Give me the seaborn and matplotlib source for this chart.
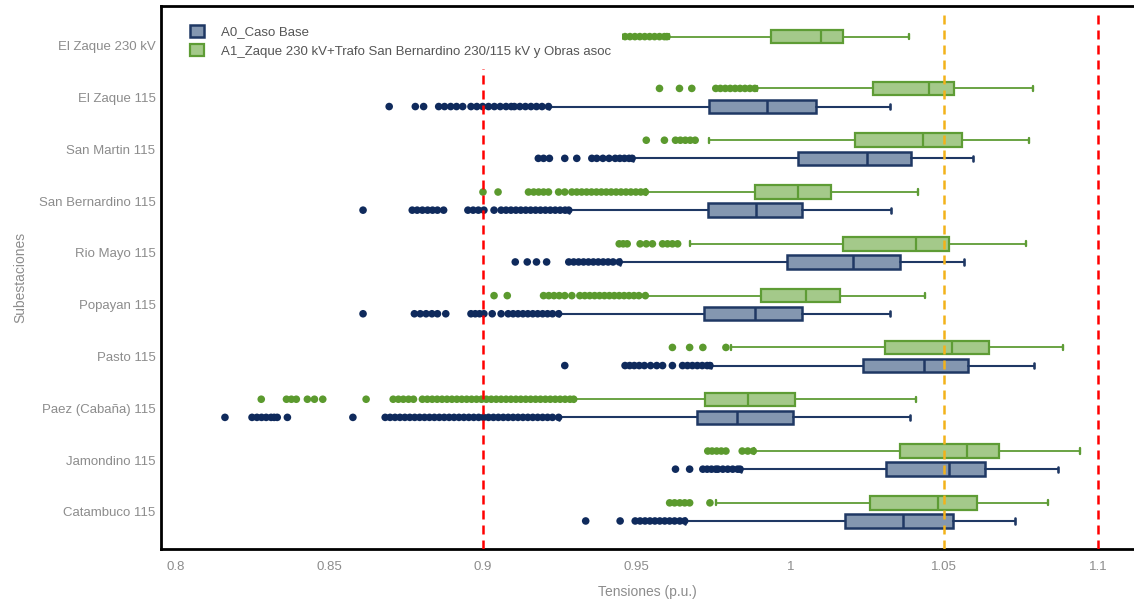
import matplotlib
matplotlib.use("Agg")
import matplotlib.pyplot as plt
from matplotlib.patches import Patch
import pandas as pd
import seaborn as sns

# substations, top to bottom
subestaciones = ["El Zaque 230 kV", "El Zaque 115", "San Martin 115", "San Bernardino 115",
                 "Rio Mayo 115", "Popayan 115", "Pasto 115", "Paez (Cabaña) 115",
                 "Jamondino 115", "Catambuco 115"]

serie_a0 = "A0_Caso Base"
serie_a1 = "A1_Zaque 230 kV+Trafo San Bernardino 230/115 kV y Obras asoc"

# box stats: whisker low, q1, median, q3, whisker high  (None = no box)
a1_stats = [
    (0.9605, 0.9938, 1.0098, 1.0170, 1.0384),
    (0.9890, 1.0269, 1.0449, 1.0531, 1.0790),
    (0.9734, 1.0210, 1.0430, 1.0557, 1.0774),
    (0.9530, 0.9885, 1.0023, 1.0131, 1.0416),
    (0.9672, 1.0170, 1.0407, 1.0515, 1.0767),
    (0.9530, 0.9905, 1.0049, 1.0161, 1.0436),
    (0.9807, 1.0308, 1.0525, 1.0646, 1.0885),
    (0.9297, 0.9721, 0.9862, 1.0016, 1.0407),
    (0.9882, 1.0357, 1.0574, 1.0679, 1.0941),
    (0.9757, 1.0259, 1.0479, 1.0607, 1.0836),
]
a0_stats = [
    None,
    (0.9215, 0.9734, 0.9925, 1.0082, 1.0325),
    (0.9487, 1.0023, 1.0249, 1.0393, 1.0593),
    (0.9281, 0.9731, 0.9889, 1.0039, 1.0328),
    (0.9445, 0.9987, 1.0203, 1.0357, 1.0564),
    (0.9248, 0.9718, 0.9885, 1.0039, 1.0325),
    (0.9740, 1.0236, 1.0433, 1.0577, 1.0793),
    (0.9248, 0.9695, 0.9826, 1.0007, 1.0390),
    (0.9838, 1.0311, 1.0515, 1.0633, 1.0869),
    (0.9658, 1.0177, 1.0367, 1.0528, 1.0731),
]

# outliers
a1_outliers = [
    [0.9446, 0.9462, 0.9478, 0.9494, 0.9510, 0.9526, 0.9542, 0.9558, 0.9574, 0.9590, 0.9598],
    [0.9574, 0.9639, 0.9679, 0.9757, 0.9772, 0.9788, 0.9804, 0.9820, 0.9836, 0.9852, 0.9868, 0.9884],
    [0.9531, 0.9590, 0.9626, 0.9642, 0.9658, 0.9674, 0.9690],
    [0.9000, 0.9049, 0.9148, 0.9165, 0.9181, 0.9197, 0.9213, 0.9246, 0.9266, 0.9289, 0.9305,
     0.9321, 0.9337, 0.9353, 0.9369, 0.9385, 0.9401, 0.9417, 0.9433, 0.9449, 0.9465, 0.9481,
     0.9497, 0.9513, 0.9528],
    [0.9443, 0.9456, 0.9469, 0.9511, 0.9531, 0.9551, 0.9584, 0.9600, 0.9616, 0.9633],
    [0.9036, 0.9079, 0.9197, 0.9214, 0.9231, 0.9248, 0.9266, 0.9289, 0.9315, 0.9331, 0.9347,
     0.9363, 0.9379, 0.9395, 0.9411, 0.9427, 0.9443, 0.9459, 0.9475, 0.9491, 0.9507, 0.9528],
    [0.9616, 0.9672, 0.9715, 0.9790],
    [0.8279, 0.8361, 0.8377, 0.8393, 0.8429, 0.8452, 0.8479, 0.8620, 0.8708, 0.8725, 0.8741,
     0.8758, 0.8774, 0.8803, 0.8819, 0.8835, 0.8851, 0.8867, 0.8883, 0.8899, 0.8915, 0.8931,
     0.8947, 0.8963, 0.8979, 0.8995, 0.9011, 0.9027, 0.9043, 0.9059, 0.9075, 0.9091, 0.9107,
     0.9123, 0.9139, 0.9155, 0.9171, 0.9187, 0.9203, 0.9219, 0.9235, 0.9251, 0.9267, 0.9283,
     0.9295],
    [0.9731, 0.9745, 0.9760, 0.9775, 0.9790, 0.9843, 0.9861, 0.9879],
    [0.9607, 0.9623, 0.9640, 0.9656, 0.9672, 0.9738],
]
a0_outliers = [
    [],
    [0.8695, 0.8780, 0.8807, 0.8856, 0.8875, 0.8895, 0.8914, 0.8934, 0.8961, 0.8980, 0.8999,
     0.9018, 0.9037, 0.9056, 0.9075, 0.9092, 0.9102, 0.9120, 0.9138, 0.9156, 0.9174, 0.9192,
     0.9213],
    [0.9180, 0.9197, 0.9216, 0.9266, 0.9305, 0.9354, 0.9370, 0.9390, 0.9410, 0.9430, 0.9445,
     0.9460, 0.9475, 0.9485],
    [0.8610, 0.8770, 0.8786, 0.8803, 0.8820, 0.8836, 0.8852, 0.8872, 0.8951, 0.8968, 0.8985,
     0.9003, 0.9036, 0.9059, 0.9075, 0.9091, 0.9107, 0.9123, 0.9139, 0.9155, 0.9171, 0.9187,
     0.9203, 0.9219, 0.9235, 0.9251, 0.9267, 0.9279],
    [0.9105, 0.9144, 0.9174, 0.9207, 0.9279, 0.9295, 0.9311, 0.9327, 0.9343, 0.9359, 0.9375,
     0.9391, 0.9407, 0.9423, 0.9443],
    [0.8610, 0.8777, 0.8796, 0.8815, 0.8834, 0.8852, 0.8879, 0.8961, 0.8975, 0.8989, 0.9003,
     0.9030, 0.9059, 0.9082, 0.9098, 0.9114, 0.9130, 0.9146, 0.9162, 0.9178, 0.9194, 0.9210,
     0.9226, 0.9246],
    [0.9266, 0.9462, 0.9477, 0.9492, 0.9508, 0.9525, 0.9545, 0.9565, 0.9584, 0.9616, 0.9649,
     0.9665, 0.9681, 0.9697, 0.9713, 0.9729, 0.9738],
    [0.8161, 0.8249, 0.8265, 0.8280, 0.8295, 0.8311, 0.8321, 0.8331, 0.8364, 0.8577, 0.8682,
     0.8698, 0.8714, 0.8730, 0.8746, 0.8762, 0.8778, 0.8794, 0.8810, 0.8826, 0.8842, 0.8858,
     0.8874, 0.8890, 0.8906, 0.8922, 0.8938, 0.8954, 0.8970, 0.8986, 0.9002, 0.9018, 0.9034,
     0.9050, 0.9066, 0.9082, 0.9098, 0.9114, 0.9130, 0.9146, 0.9162, 0.9178, 0.9194, 0.9210,
     0.9226, 0.9246],
    [0.9626, 0.9672, 0.9715, 0.9729, 0.9743, 0.9757, 0.9764, 0.9780, 0.9796, 0.9812, 0.9828,
     0.9836],
    [0.9334, 0.9446, 0.9495, 0.9511, 0.9527, 0.9543, 0.9559, 0.9575, 0.9591, 0.9607, 0.9623,
     0.9640, 0.9656],
]

# limits (p.u.)
limites_rojo = [0.9, 1.1]
limite_naranja = 1.05

x_ticks = [0.8, 0.85, 0.9, 0.95, 1.0, 1.05, 1.1]
x_tick_labels = ["0.8", "0.85", "0.9", "0.95", "1", "1.05", "1.1"]

navy = "#1f3864"
slate = "#8497b0"
green_edge = "#5e9c35"
green_fill = "#a4c98a"
gray_txt = "#8c8c8c"

sns.set_style("white")
plt.rcParams['font.family'] = ['Liberation Sans', 'DejaVu Sans']

fig = plt.figure(figsize=(11.34, 6.0), dpi=100)
ax = fig.add_axes([161 / 1134, 1 - 549 / 600, 1 - 161 / 1134, (549 - 6) / 600])

off = 0.175
bw = 0.26


def to_bxp(stats):
    out = []
    for st in stats:
        lo, q1, med, q3, hi = st
        out.append(dict(whislo=lo, q1=q1, med=med, q3=q3, whishi=hi, fliers=[]))
    return out


def draw(stats, pos, edge, fill, lw_box, lw_wh):
    ax.bxp(to_bxp(stats), positions=pos, widths=bw, orientation='horizontal',
           patch_artist=True, showfliers=False, capwidths=0.1,
           boxprops=dict(facecolor=fill, edgecolor=edge, linewidth=lw_box),
           medianprops=dict(color=edge, linewidth=lw_box),
           whiskerprops=dict(color=edge, linewidth=lw_wh),
           capprops=dict(color=edge, linewidth=lw_wh + 0.4),
           manage_ticks=False, zorder=3)


# A1 boxes (upper), A0 boxes (lower)
draw(a1_stats, [i - off for i in range(len(subestaciones))], green_edge, green_fill, 1.6, 1.3)
idx0 = [i for i, st in enumerate(a0_stats) if st is not None]
draw([a0_stats[i] for i in idx0], [i + off for i in idx0], navy, slate, 1.8, 1.5)

# outliers
rows = []
for i, vals in enumerate(a1_outliers):
    for v in vals:
        rows.append((v, i - off, serie_a1))
for i, vals in enumerate(a0_outliers):
    for v in vals:
        rows.append((v, i + off, serie_a0))
df = pd.DataFrame(rows, columns=["Tension", "pos", "Escenario"])
sns.scatterplot(data=df, x="Tension", y="pos", hue="Escenario",
                palette={serie_a0: "#0f2a5c", serie_a1: "#5b9a2e"},
                s=30, linewidth=0, legend=False, ax=ax, zorder=4)

for x in limites_rojo:
    ax.axvline(x, ymax=0.985, color="#ff0000", linewidth=1.8, linestyle=(0, (3.6, 2.4)), zorder=5)
ax.axvline(limite_naranja, ymax=0.985, color="#f2b21b", linewidth=1.8,
           linestyle=(0, (3.6, 2.4)), zorder=5)

ax.set_xlim(0.7953, 1.1117)
ax.set_ylim(9.716, -0.766)
ax.set_xticks(x_ticks)
ax.set_xticklabels(x_tick_labels)
ax.set_yticks(range(len(subestaciones)))
ax.set_yticklabels(subestaciones)
ax.tick_params(axis='both', length=0, labelsize=9.5, labelcolor=gray_txt)
ax.tick_params(axis='x', pad=9)
ax.tick_params(axis='y', pad=4)

ax.set_xlabel("Tensiones (p.u.)", fontsize=10, color=gray_txt, labelpad=8)
ax.set_ylabel("Subestaciones", fontsize=10, color=gray_txt, labelpad=8)

for side in ["left", "bottom", "top"]:
    ax.spines[side].set_color("black")
    ax.spines[side].set_linewidth(2)
ax.spines["right"].set_visible(False)

handles = [Patch(facecolor=slate, edgecolor=navy, linewidth=1.8, label=serie_a0),
           Patch(facecolor=green_fill, edgecolor=green_edge, linewidth=1.6, label=serie_a1)]
leg = ax.legend(handles=handles, loc="upper left", bbox_to_anchor=(0.012, 0.998),
                frameon=True, facecolor="white", edgecolor="none", framealpha=1.0,
                fancybox=False, borderpad=0.85,
                handlelength=1.0, handleheight=1.0, handletextpad=1.3,
                labelspacing=0.45, fontsize=9.5)
leg.set_zorder(10)
for t in leg.get_texts():
    t.set_color("#555555")

fig.savefig("out.png", dpi=100)
